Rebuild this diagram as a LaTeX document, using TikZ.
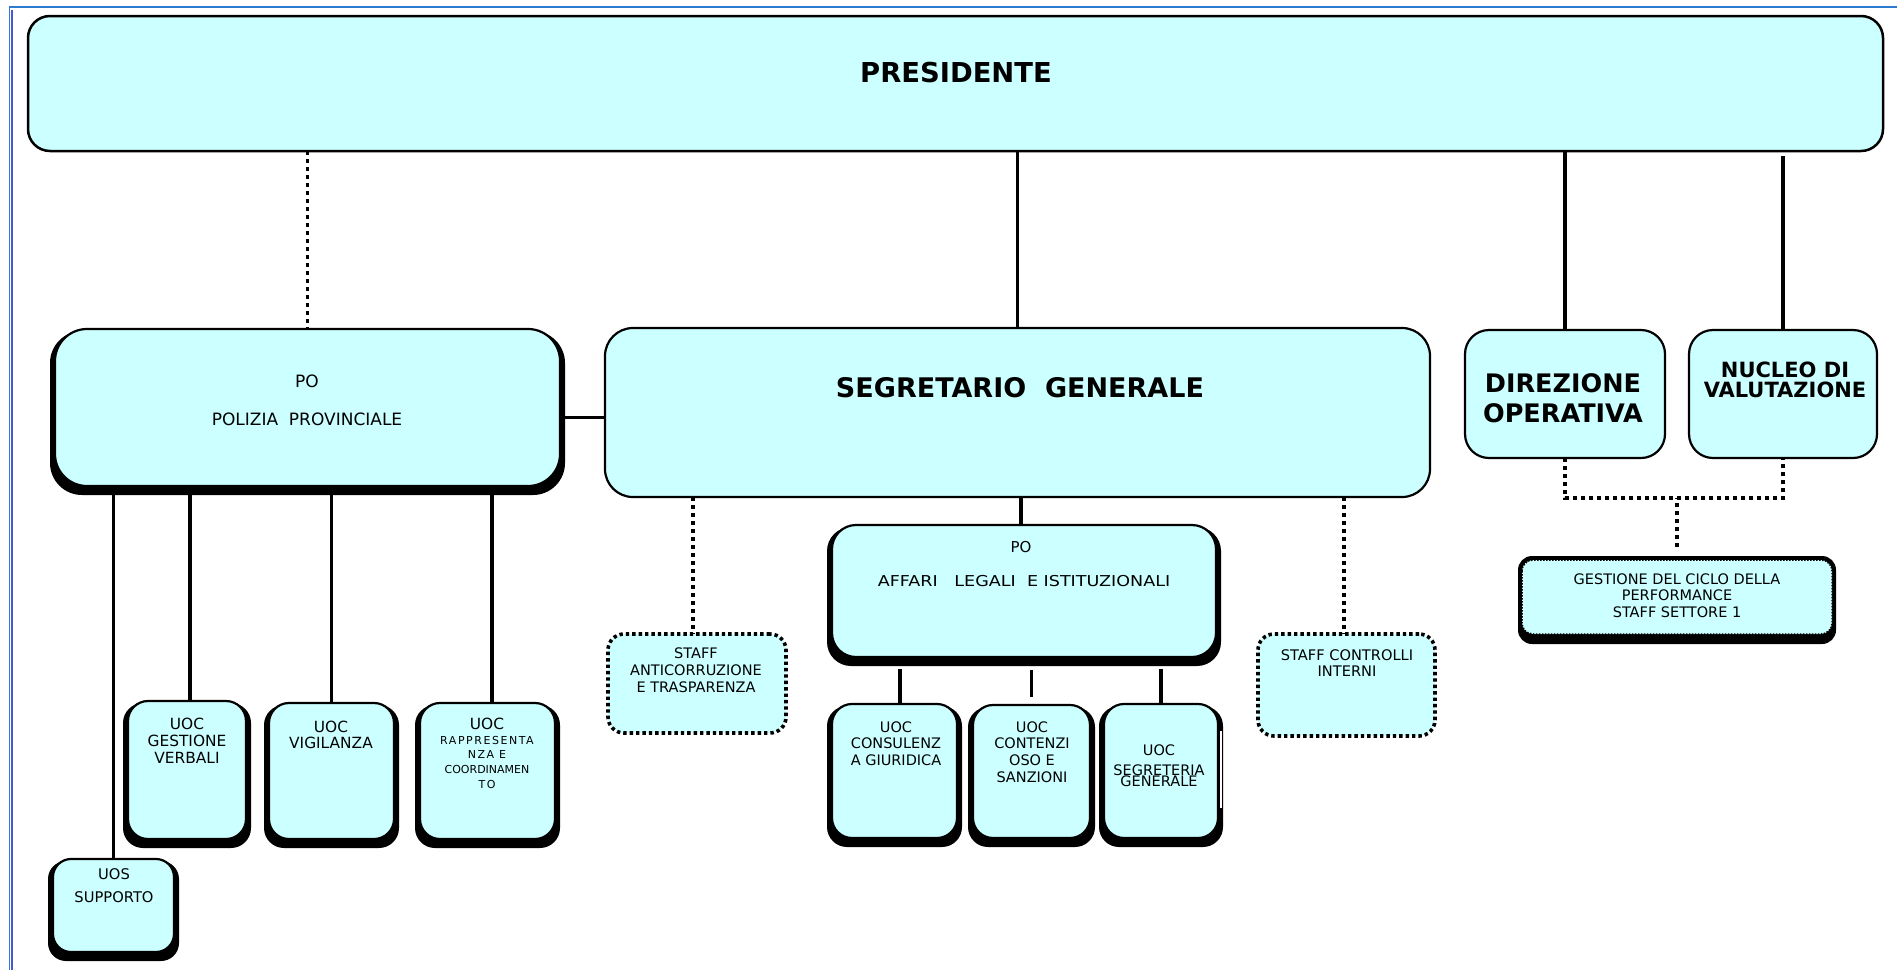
\documentclass[tikz,border=0pt]{standalone}
\usepackage{fontspec}
\setmainfont{DejaVu Sans}
\usepackage{graphicx}
\usetikzlibrary{fit,calc}
\definecolor{boxcyan}{RGB}{204,255,255}
\definecolor{pageblue}{RGB}{44,123,207}
\definecolor{pageviolet}{RGB}{74,85,214}
\newcommand{\fs}[2]{\fontsize{#1}{#2}\selectfont}
\newcommand{\lsp}{\addfontfeature{LetterSpace=14}}
\tikzset{
  plainbox/.style={draw=black, line width=2.2pt, fill=boxcyan},
  dotbox/.style={draw=black, fill=boxcyan, line width=3.6pt, dash pattern=on 3.4pt off 3pt},
  solidc/.style={draw=black, line width=3.5pt},
  dotc/.style={draw=black, line width=3.8pt, dash pattern=on 4pt off 4pt},
  txt/.style={align=center, text=black},
}
% shadowed box: name, x1, y1, x2, y2, radius
\newcommand{\shbox}[6]{%
  \fill[black, rounded corners=#6pt] (#2-5,#3+2) rectangle (#4+5,#5+9);
  \node[plainbox, rounded corners=#6pt, fit={(#2,#3) (#4,#5)}] (#1) {};}
\begin{document}
\begin{tikzpicture}[x=1pt, y=-1pt, every node/.style={inner sep=0pt, outer sep=0pt}]
\fill[white] (0,0) rectangle (1897,970);
\useasboundingbox (0,0) rectangle (1897,970);
% page border
\draw[pageblue, line width=1.5pt] (8.5,7) -- (1897,7);
\draw[pageblue, line width=1.2pt] (9.5,7) -- (9.5,970);
\draw[pageviolet, line width=1.5pt] (12,10) -- (12,970);

% top
\node[plainbox, line width=2.5pt, rounded corners=22pt, fit={(28,16) (1883,151)}] (pres) {};
\node[font=\bfseries\fs{27.4}{32}, anchor=base] (tpres) at (956,82) {PRESIDENTE};

% second level
\shbox{pol}{55}{329}{560}{486}{32}
\node[txt, font=\fs{17}{38}, anchor=north] (tpol) at (307,374.6) {PO\\POLIZIA\ \ PROVINCIALE};

\node[plainbox, rounded corners=28pt, fit={(605,328) (1430,497)}] (sg) {};
\node[font=\bfseries\fs{27}{32}, anchor=base] (tsg) at (1020,397) {SEGRETARIO\ \ GENERALE};

\node[plainbox, rounded corners=24pt, fit={(1465,330) (1665,458)}] (dir) {};
\node[txt, font=\bfseries\fs{25.5}{30}, anchor=north] (tdir) at (1563,373.4) {DIREZIONE\\OPERATIVA};

\node[plainbox, rounded corners=24pt, fit={(1689,330) (1877,458)}] (nuc) {};
\node[txt, font=\bfseries\fs{21}{20}, anchor=north] (tnuc) at (1785,361.7) {NUCLEO DI\\VALUTAZIONE};

% gestione
\node[fill=black, rounded corners=14pt, fit={(1518,556) (1836,644)}] (gest) {};
\draw[fill=boxcyan, line width=1.5pt, dash pattern=on 1.5pt off 1.5pt, rounded corners=11pt] (1522,560) rectangle (1832,634);
\node[txt, font=\fs{14.5}{16.5}, anchor=north] (tgest) at (1677,573.4) {GESTIONE DEL CICLO DELLA\\PERFORMANCE\\STAFF SETTORE 1};

% polizia children
\shbox{gv}{128}{701}{246}{839}{20}
\node[txt, font=\fs{15.4}{17}, anchor=north] (tgv) at (187,717.8) {UOC\\GESTIONE\\VERBALI};
\shbox{vig}{269}{703}{394}{839}{20}
\node[txt, font=\fs{15.4}{16.5}, anchor=north] (tvig) at (331,720.8) {UOC\\VIGILANZA};
\shbox{rap}{420}{703}{555}{839}{20}
\node[font=\fs{15.4}{17}, anchor=base] (trapa) at (487,729) {UOC};
\node[txt, font=\fs{11}{14.7}, anchor=north] (trapb) at (487,736) {{\lsp RAPPRESENTA}\\{\lsp NZA E}\\COORDINAMEN\\{\lsp TO}};
\shbox{uos}{53}{859}{174}{952}{18}
\node[txt, font=\fs{14.7}{23}, anchor=north] (tuos) at (114,868.3) {UOS\\SUPPORTO};

% segretario children
\node[dotbox, rounded corners=16pt, fit={(608,634) (786,733)}] (sta) {};
\node[txt, font=\fs{14.5}{17}, anchor=north] (tsta) at (696,647.4) {STAFF\\ANTICORRUZIONE\\E TRASPARENZA};
\node[dotbox, rounded corners=16pt, fit={(1258,634) (1435,736)}] (stc) {};
\node[txt, font=\fs{14.6}{16}, anchor=north] (tstc) at (1347,649.4) {STAFF CONTROLLI\\INTERNI};

\shbox{aff}{832}{525}{1216}{657}{24}
\node[font=\fs{15}{18}, anchor=base] (taffa) at (1021,552) {PO};
\node[font=\fs{15}{18}, anchor=base] (taffb) at (1024,586) {\scalebox{1.17}[1]{AFFARI\ \ \ LEGALI\ \ E ISTITUZIONALI}};

\shbox{cons}{832}{704}{957}{838}{20}
\node[txt, font=\fs{14.5}{16.5}, anchor=north] (tcons) at (896,721.4) {UOC\\CONSULENZ\\A GIURIDICA};
\shbox{cont}{973}{705}{1090}{838}{20}
\node[txt, font=\fs{14.5}{16.7}, anchor=north] (tcont) at (1032,721.4) {UOC\\CONTENZI\\OSO E\\SANZIONI};
\shbox{seg}{1104}{704}{1218}{838}{20}
\node[txt, font=\fs{14.5}{17}, anchor=north] (tseg) at (1159,744.4) {UOC\\[3pt]SEGRETERIA\\[-6pt]GENERALE};
\draw[white, line width=1.5pt] (1221,731) -- (1221,808);

% connectors
\draw[dotc] (pres.south -| pol.north) -- (pol.north);
\draw[solidc] (pres.south -| sg.north) -- (sg.north);
\draw[solidc] (pres.south -| dir.north) -- (dir.north);
\draw[solidc] ($(pres.south -| nuc.north)+(0,5)$) -- (nuc.north);
\draw[solidc] ($(pol.east)+(0,10)$) -- ($(pol.east -| sg.west)+(0,10)$);

\draw[solidc] (pol.south -| uos.north) -- (uos.north);
\draw[solidc] ($(pol.south -| gv.north)+(3,0)$) -- ($(gv.north)+(3,0)$);
\draw[solidc] (pol.south -| vig.north) -- (vig.north);
\draw[solidc] ($(pol.south -| rap.north)+(4.5,0)$) -- ($(rap.north)+(4.5,0)$);

\draw[dotc] ($(sg.south -| sta.north)+(-4,0)$) -- ($(sta.north)+(-4,0)$);
\draw[solidc] ($(sg.south -| aff.north)+(-3,0)$) -- ($(aff.north)+(-3,0)$);
\draw[dotc] ($(sg.south -| stc.north)+(-2.5,0)$) -- ($(stc.north)+(-2.5,0)$);

\draw[solidc] ($(aff.south -| cons.north)+(5.5,12)$) -- ($(cons.north)+(5.5,0)$);
\draw[solidc] ($(aff.south -| cont.north)+(0,13)$) -- ($(cont.north)+(0,-8)$);
\draw[solidc] ($(aff.south -| seg.north)+(0,12)$) -- (seg.north);

\coordinate (jl) at ($(dir.south)+(0,40)$);
\draw[dotc] (dir.south) -- (jl) -| (nuc.south);
\draw[dotc, line width=4.2pt] ($(gest.north)+(0,-9)$) -- (jl -| gest.north);
\end{tikzpicture}
\end{document}
